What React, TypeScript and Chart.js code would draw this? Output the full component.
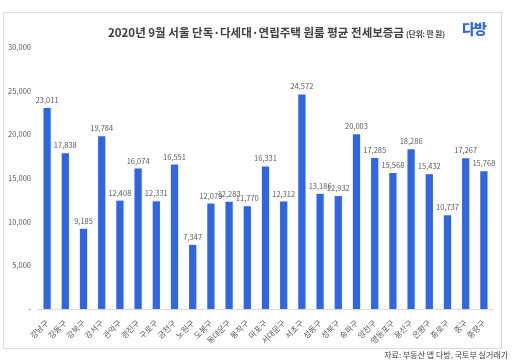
import React, { useEffect, useRef } from "react";
import { Chart, registerables } from "chart.js";

Chart.register(...registerables);

const categories = [
  "강남구", "강동구", "강북구", "강서구", "관악구", "광진구", "구로구", "금천구", "노원구", "도봉구",
  "동대문구", "동작구", "마포구", "서대문구", "서초구", "성동구", "성북구", "송파구", "양천구", "영등포구",
  "용산구", "은평구", "종로구", "중구", "중랑구",
];
const deposits = [
  23011, 17838, 9185, 19784, 12408, 16074, 12331, 16551, 7347, 12079,
  12283, 11770, 16331, 12312, 24572, 13186, 12932, 20003, 17285, 15568,
  18286, 15432, 10737, 17267, 15768,
];
const titleMain = "2020년 9월 서울 단독·다세대·연립주택 원룸 평균 전세보증금";
const titleUnit = "(단위: 만 원)";
const sourceText = "자료: 부동산 앱 다방, 국토부 실거래가";
const logoText = "다방";

const FONT = "'Noto Sans CJK KR', 'Noto Sans', sans-serif";
const fmt = (v: number) => (v === 0 ? "-" : v.toLocaleString("en-US"));

const valueLabels = {
  id: "valueLabels",
  afterDatasetsDraw(chart: any) {
    const ctx = chart.ctx;
    const meta = chart.getDatasetMeta(0);
    ctx.save();
    ctx.font = `7.5px ${FONT}`;
    ctx.fillStyle = "#595959";
    ctx.textAlign = "center";
    ctx.textBaseline = "bottom";
    meta.data.forEach((bar: any, i: number) => {
      ctx.fillText(fmt(chart.data.datasets[0].data[i]), bar.x, bar.y - 4);
    });
    ctx.restore();
  },
};

export default function App() {
  const ref = useRef<HTMLCanvasElement>(null);
  useEffect(() => {
    if (!ref.current) return;
    const chart = new Chart(ref.current, {
      type: "bar",
      data: {
        labels: categories,
        datasets: [
          {
            data: deposits,
            backgroundColor: "#3166e3",
            borderWidth: 0,
            categoryPercentage: 1,
            barPercentage: 0.4,
          },
        ],
      },
      options: {
        animation: false,
        responsive: false,
        maintainAspectRatio: false,
        layout: { padding: { left: 0, right: 19, top: 47, bottom: 15 } },
        plugins: { legend: { display: false }, tooltip: { enabled: false }, title: { display: false } },
        scales: {
          x: {
            grid: { display: false, drawTicks: false },
            border: { display: true, color: "#d9d9d9" },
            ticks: {
              font: { family: FONT, size: 8 },
              color: "#595959",
              minRotation: 45,
              maxRotation: 45,
              autoSkip: false,
              padding: 9,
            },
            afterFit: (s: any) => { s.height = 40; },
          },
          y: {
            min: 0,
            max: 30000,
            grid: { display: false, drawTicks: false },
            border: { display: false },
            ticks: {
              stepSize: 5000,
              font: { family: FONT, size: 7.5 },
              color: "#595959",
              padding: 7,
              callback: (v: any) => fmt(Number(v)),
            },
            afterFit: (s: any) => { s.width = 38; },
          },
        },
      },
      plugins: [valueLabels],
    });
    return () => chart.destroy();
  }, []);

  return (
    <div style={{ position: "fixed", left: 0, top: 0, width: 512, height: 364, background: "#fff", fontFamily: FONT, overflow: "hidden" }}>
      <div style={{ position: "absolute", left: 3, top: 12, width: 499, height: 337, border: "1px solid #d9d9d9", boxSizing: "border-box" }} />
      <canvas ref={ref} width={512} height={364} style={{ position: "absolute", left: 0, top: 0 }} />
      <div style={{ position: "absolute", left: 108, top: 18, whiteSpace: "nowrap", color: "#404040" }}>
        <span style={{ fontSize: 11.5, fontWeight: 700 }}>{titleMain}</span>
        <span style={{ fontSize: 7.5, fontWeight: 700, marginLeft: 2 }}>{titleUnit}</span>
      </div>
      <div style={{ position: "absolute", left: 462, top: 18, color: "#3166e3", fontSize: 14, fontWeight: 900, letterSpacing: -1, whiteSpace: "nowrap" }}>
        {logoText}
      </div>
      <div style={{ position: "absolute", right: 4, top: 349, color: "#404040", fontSize: 8, whiteSpace: "nowrap" }}>
        {sourceText}
      </div>
    </div>
  );
}
